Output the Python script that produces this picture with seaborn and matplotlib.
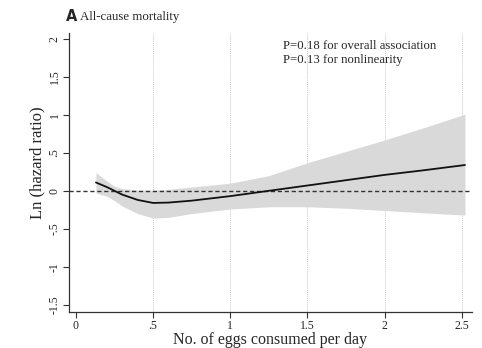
import numpy as np
import pandas as pd
import seaborn as sns
import matplotlib.pyplot as plt

# Estimated values read off the reference spline
eggs = [0.13, 0.2, 0.25, 0.3, 0.4, 0.5, 0.6, 0.75, 1.0, 1.25, 1.5, 1.75, 2.0, 2.25, 2.52]
ln_hr = [0.11, 0.05, 0.0, -0.05, -0.12, -0.16, -0.155, -0.13, -0.07, 0.0, 0.07, 0.14, 0.21, 0.27, 0.34]
ci_upper = [0.24, 0.13, 0.06, 0.03, 0.01, 0.01, 0.02, 0.05, 0.1, 0.2, 0.37, 0.52, 0.67, 0.83, 1.01]
ci_lower = [-0.03, -0.07, -0.13, -0.2, -0.3, -0.36, -0.35, -0.3, -0.24, -0.21, -0.21, -0.23, -0.26, -0.29, -0.32]

x_ticks = [0, 0.5, 1, 1.5, 2, 2.5]
x_labels = ["0", ".5", "1", "1.5", "2", "2.5"]
y_ticks = [-1.5, -1, -0.5, 0, 0.5, 1, 1.5, 2]
y_labels = ["-1.5", "-1", "-.5", "0", ".5", "1", "1.5", "2"]

df = pd.DataFrame({"eggs": eggs, "ln_hr": ln_hr, "lo": ci_lower, "hi": ci_upper})

sns.set_style("white")
plt.rcParams["font.family"] = ["Liberation Serif", "DejaVu Serif"]

fig = plt.figure(figsize=(4.82, 3.48), dpi=100)
ax = fig.add_axes([0.143, 0.103, 0.836, 0.802])

# grid lines (vertical, dotted)
for xv in x_ticks[1:]:
    ax.axvline(xv, color="#c8c8c8", lw=0.7, ls=(0, (1, 1)), zorder=0)

ax.fill_between(df["eggs"], df["lo"], df["hi"], color="#d9d9d9", lw=0, zorder=1)
ax.axhline(0, color="#333333", lw=1.0, ls=(0, (3, 2)), zorder=2)
sns.lineplot(data=df, x="eggs", y="ln_hr", color="#111111", lw=1.3, ax=ax, zorder=3)

ax.set_xlim(-0.045, 2.565)
ax.set_ylim(-1.6, 2.08)
ax.set_xticks(x_ticks)
ax.set_xticklabels(x_labels, fontsize=8.5)
ax.set_yticks(y_ticks)
ax.set_yticklabels(y_labels, fontsize=8.5, rotation=90, va="center")
ax.tick_params(axis="both", direction="out", length=4, width=0.8, color="#333333", bottom=True, left=True, pad=2)
for s in ["top", "right"]:
    ax.spines[s].set_visible(False)
for s in ["left", "bottom"]:
    ax.spines[s].set_color("#333333")
    ax.spines[s].set_linewidth(0.9)

ax.set_xlabel("No. of eggs consumed per day", fontsize=11.5, labelpad=0)
ax.set_ylabel("Ln (hazard ratio)", fontsize=12)
ax.yaxis.set_label_coords(-0.058, 0.535)

ax.text(1.34, 1.99, "P=0.18 for overall association\nP=0.13 for nonlinearity",
        fontsize=9.2, va="top", ha="left", linespacing=1.2)

fig.text(0.137, 0.952, "A", fontsize=10.5, fontweight="bold", family="DejaVu Sans", va="center")
fig.text(0.166, 0.952, "All-cause mortality", fontsize=9.3, va="center")

fig.savefig("out.png", dpi=100)
